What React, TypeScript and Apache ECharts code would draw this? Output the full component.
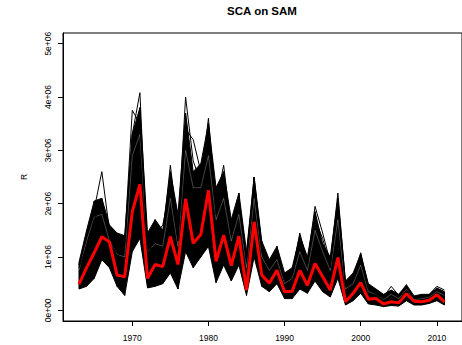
import React, { useEffect, useRef } from "react";
import * as echarts from "echarts";

const years = [
  1963, 1964, 1965, 1966, 1967, 1968, 1969, 1970, 1971, 1972, 1973, 1974, 1975, 1976, 1977, 1978, 1979,
  1980, 1981, 1982, 1983, 1984, 1985, 1986, 1987, 1988, 1989, 1990, 1991, 1992, 1993, 1994, 1995, 1996,
  1997, 1998, 1999, 2000, 2001, 2002, 2003, 2004, 2005, 2006, 2007, 2008, 2009, 2010, 2011,
];

// red estimate (millions)
const estimate = [
  0.49, 0.8, 1.08, 1.38, 1.28, 0.66, 0.63, 1.85, 2.36, 0.6, 0.86, 0.82, 1.38, 0.86, 2.09, 1.26, 1.42,
  2.25, 0.92, 1.41, 0.84, 1.39, 0.38, 1.66, 0.66, 0.51, 0.75, 0.35, 0.36, 0.75, 0.47, 0.88, 0.63, 0.38,
  0.99, 0.16, 0.32, 0.52, 0.21, 0.22, 0.12, 0.16, 0.14, 0.31, 0.17, 0.16, 0.19, 0.29, 0.16,
];

// dense ensemble envelope (millions)
const ensembleUpper = [
  0.9, 1.5, 2.05, 2.1, 1.6, 1.45, 1.4, 3.3, 3.8, 1.45, 1.7, 1.5, 2.6, 1.8, 3.7, 2.6, 2.75,
  3.5, 2.3, 2.6, 1.7, 2.2, 1.1, 2.5, 1.3, 0.95, 1.2, 0.7, 0.8, 1.4, 1.0, 1.85, 1.25, 1.0,
  2.1, 0.55, 0.7, 1.05, 0.5, 0.4, 0.3, 0.38, 0.3, 0.48, 0.27, 0.3, 0.3, 0.42, 0.35,
];
const ensembleLower = [
  0.4, 0.45, 0.6, 0.95, 0.8, 0.45, 0.28, 1.1, 1.35, 0.42, 0.45, 0.5, 0.7, 0.4, 1.1, 0.8, 1.0,
  1.2, 0.52, 0.85, 0.55, 0.85, 0.28, 1.0, 0.45, 0.35, 0.5, 0.22, 0.22, 0.4, 0.32, 0.55, 0.35, 0.25,
  0.6, 0.1, 0.18, 0.32, 0.12, 0.1, 0.07, 0.09, 0.08, 0.18, 0.1, 0.1, 0.13, 0.18, 0.1,
];

// outlying ensemble members (millions)
const memberA = [
  0.85, 1.4, 1.9, 2.6, 1.5, 1.2, 1.3, 3.75, 3.5, 1.2, 1.5, 1.4, 2.72, 1.5, 4.0, 2.8, 2.4,
  3.6, 2.0, 2.72, 1.5, 2.0, 1.0, 2.5, 1.2, 0.9, 1.13, 0.6, 0.7, 1.45, 0.9, 1.95, 1.45, 0.9,
  2.2, 0.5, 0.65, 1.08, 0.45, 0.35, 0.25, 0.45, 0.28, 0.45, 0.25, 0.25, 0.3, 0.45, 0.38,
];
const memberB = [
  0.8, 1.2, 1.7, 2.0, 1.4, 1.0, 1.2, 3.3, 4.08, 1.0, 1.4, 1.6, 2.3, 1.3, 3.4, 3.2, 2.6,
  3.3, 1.8, 2.4, 1.4, 2.1, 0.9, 2.3, 1.1, 0.8, 1.05, 0.55, 0.65, 1.3, 0.85, 1.7, 1.35, 0.8,
  2.0, 0.45, 0.6, 0.95, 0.4, 0.3, 0.22, 0.35, 0.25, 0.42, 0.22, 0.24, 0.27, 0.38, 0.3,
];
// members seen as light gaps inside the dense band (millions)
const memberC = [
  0.75, 1.3, 1.75, 1.8, 1.3, 1.05, 1.0, 2.9, 3.3, 1.1, 1.25, 1.2, 2.1, 1.2, 3.0, 2.3, 2.3,
  2.9, 1.7, 2.1, 1.3, 1.8, 0.8, 2.1, 1.0, 0.75, 0.95, 0.5, 0.6, 1.1, 0.75, 1.5, 1.1, 0.75,
  1.7, 0.4, 0.5, 0.85, 0.35, 0.3, 0.2, 0.3, 0.22, 0.4, 0.2, 0.22, 0.25, 0.35, 0.28,
];

const xTicks = [1970, 1980, 1990, 2000, 2010];
const yTicks = [0, 1e6, 2e6, 3e6, 4e6, 5e6];
const yTickLabels = ["0e+00", "1e+06", "2e+06", "3e+06", "4e+06", "5e+06"];

const M = 1e6;

export default function App() {
  const ref = useRef<HTMLDivElement>(null);
  useEffect(() => {
    if (!ref.current) return;
    const chart = echarts.init(ref.current, null, { renderer: "svg" });
    const toPts = (arr: number[]) => years.map((y, i) => [y, arr[i] * M]);
    const bandData = years.slice(0, -1).map((y, i) => [
      y,
      ensembleLower[i] * M,
      ensembleUpper[i] * M,
      years[i + 1],
      ensembleLower[i + 1] * M,
      ensembleUpper[i + 1] * M,
    ]);
    const font = "Liberation Sans, Arial, sans-serif";
    chart.setOption({
      animation: false,
      title: {
        text: "SCA on SAM",
        left: 262,
        textAlign: "center",
        top: 5,
        padding: 0,
        textStyle: { fontFamily: font, fontSize: 11.5, fontWeight: "bold", color: "#000" },
      },
      grid: {
        left: 63,
        top: 33,
        width: 402,
        height: 288,
        show: true,
        borderColor: "#000",
        borderWidth: 1,
        backgroundColor: "transparent",
      },
      xAxis: {
        type: "value",
        min: 1960.9,
        max: 2013.3,
        splitLine: { show: false },
        axisLine: { show: true, onZero: false, lineStyle: { color: "#000", width: 1 } },
        axisTick: { show: true, customValues: xTicks, length: 5, lineStyle: { color: "#000" } },
        axisLabel: {
          customValues: xTicks,
          margin: 12,
          fontFamily: font,
          fontSize: 8.5,
          color: "#000",
          formatter: (v: number) => String(v),
        },
      },
      yAxis: {
        type: "value",
        min: -0.2e6,
        max: 5.2e6,
        name: "R",
        nameLocation: "middle",
        nameRotate: 90,
        nameGap: 35,
        nameTextStyle: { fontFamily: font, fontSize: 8.5, color: "#000" },
        splitLine: { show: false },
        axisLine: { show: true, onZero: false, lineStyle: { color: "#000", width: 1 } },
        axisTick: { show: true, customValues: yTicks, length: 5, lineStyle: { color: "#000" } },
        axisLabel: {
          customValues: yTicks,
          rotate: 90,
          margin: 11,
          fontFamily: font,
          fontSize: 8.5,
          color: "#000",
          formatter: (v: number) => {
            const idx = yTicks.indexOf(v);
            return idx >= 0 ? yTickLabels[idx] : "";
          },
        },
      },
      series: [
        {
          type: "custom",
          data: bandData,
          encode: { x: [0, 3], y: [1, 2, 4, 5] },
          renderItem: (params: any, api: any) => {
            const p1 = api.coord([api.value(0), api.value(2)]);
            const p2 = api.coord([api.value(3), api.value(5)]);
            const p3 = api.coord([api.value(3), api.value(4)]);
            const p4 = api.coord([api.value(0), api.value(1)]);
            return {
              type: "polygon",
              shape: { points: [p1, p2, p3, p4] },
              style: { fill: "#000", stroke: "#000", lineWidth: 1 },
            };
          },
          z: 2,
        },
        {
          type: "line",
          data: toPts(memberC),
          symbol: "none",
          lineStyle: { color: "#fff", width: 0.6, opacity: 0.45 },
          z: 3,
        },
        {
          type: "line",
          data: toPts(memberA),
          symbol: "none",
          lineStyle: { color: "#000", width: 1 },
          z: 3,
        },
        {
          type: "line",
          data: toPts(memberB),
          symbol: "none",
          lineStyle: { color: "#000", width: 1 },
          z: 3,
        },
        {
          type: "line",
          data: toPts(estimate),
          symbol: "none",
          lineStyle: { color: "#ff0000", width: 3 },
          z: 4,
        },
      ],
    });
    return () => chart.dispose();
  }, []);
  return (
    <div
      ref={ref}
      style={{ position: "fixed", left: 0, top: 0, width: 462, height: 345, background: "#fff" }}
    />
  );
}
